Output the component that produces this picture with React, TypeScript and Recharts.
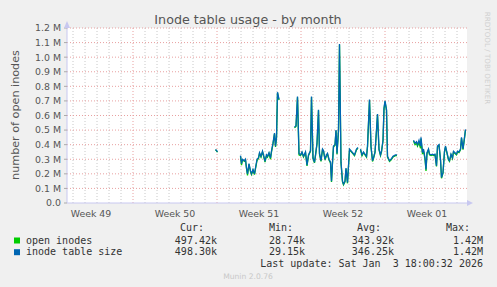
import { LineChart, Line, XAxis, YAxis, CartesianGrid, ReferenceLine } from "recharts";

// hours since the left edge of the graph (2 h per pixel)
const hours = [
  297, 299, 301, 320,
  347, 349, 351, 355, 357, 359, 361, 364, 367, 369, 372, 375, 377, 380, 383, 385,
  388, 391, 393, 396, 399, 401, 404, 407, 409, 412, 415, 417, 419, 421, 424, 440,
  455, 458, 461, 464, 467, 470, 473, 477, 480, 483, 487, 489, 492, 495, 497, 500,
  503, 505, 508, 511, 513, 516, 519, 521, 524, 527, 529, 531, 533, 536, 538, 540,
  543, 545, 548, 551, 553, 556, 558, 561, 565, 570, 575, 579, 582, 585, 587, 590,
  593, 599, 601, 605, 608, 611, 613, 616, 619, 621, 624, 627, 629, 632, 634, 636,
  639, 641, 645, 648, 652, 657, 660, 675,
  693, 696, 699, 701, 704, 707, 708, 711, 713, 716, 718, 720, 723, 725, 728, 731,
  733, 736, 739, 741, 744, 747, 749, 752, 755, 757, 760, 763, 765, 768, 771, 773,
  776, 779, 781, 784, 787, 789, 792, 795, 797,
];

// millions
const tableSize = [
  0.367, 0.36, 0.35, null,
  0.325, 0.27, 0.3, 0.29, 0.3, 0.24, 0.2, 0.27, 0.22, 0.2, 0.23, 0.2, 0.24, 0.3, 0.31, 0.345,
  0.32, 0.355, 0.33, 0.285, 0.33, 0.32, 0.345, 0.31, 0.355, 0.41, 0.48, 0.39, 0.45, 0.76, 0.71, null,
  0.52, 0.53, 0.73, 0.34, 0.33, 0.35, 0.32, 0.35, 0.26, 0.33, 0.36, 0.73, 0.31, 0.28, 0.33, 0.41,
  0.64, 0.34, 0.29, 0.37, 0.36, 0.3, 0.33, 0.34, 0.3, 0.28, 0.15, 0.28, 0.39, 0.4, 0.5, 0.34,
  0.5, 1.09, 0.28, 0.15, 0.13, 0.15, 0.24, 0.14, 0.37, 0.35, 0.33, 0.37, 0.38, null, 0.37, 0.33,
  0.35, 0.32, 0.39, 0.71, 0.39, 0.29, 0.31, 0.35, 0.5, 0.61, 0.37, 0.33, 0.355, 0.43, 0.65, 0.7,
  0.64, 0.32, 0.29, 0.3, 0.32, 0.33, 0.33, null,
  0.43, 0.41, 0.42, 0.4, 0.43, 0.39, 0.45, 0.345, 0.37, 0.31, 0.23, 0.345, 0.37, 0.335, 0.33, 0.335,
  0.33, 0.335, 0.255, 0.39, 0.4, 0.3, 0.175, 0.21, 0.355, 0.39, 0.345, 0.3, 0.29, 0.335, 0.31, 0.355,
  0.345, 0.335, 0.355, 0.35, 0.37, 0.45, 0.37, 0.45, 0.505,
];

const openInodes = [
  0.365, 0.358, 0.348, null,
  0.32, 0.26, 0.295, 0.285, 0.295, 0.235, 0.19, 0.265, 0.215, 0.195, 0.225, 0.195, 0.235, 0.29, 0.305, 0.34,
  0.315, 0.35, 0.325, 0.28, 0.325, 0.315, 0.34, 0.3, 0.35, 0.405, 0.475, 0.385, 0.445, 0.755, 0.705, null,
  0.515, 0.525, 0.725, 0.33, 0.325, 0.345, 0.315, 0.345, 0.255, 0.325, 0.355, 0.725, 0.305, 0.275, 0.325, 0.405,
  0.635, 0.335, 0.285, 0.365, 0.355, 0.295, 0.325, 0.335, 0.295, 0.275, 0.145, 0.275, 0.385, 0.395, 0.495, 0.335,
  0.495, 1.085, 0.275, 0.145, 0.125, 0.145, 0.235, 0.135, 0.365, 0.345, 0.325, 0.365, 0.375, null, 0.365, 0.325,
  0.345, 0.315, 0.385, 0.705, 0.385, 0.285, 0.305, 0.345, 0.495, 0.605, 0.365, 0.325, 0.35, 0.425, 0.645, 0.695,
  0.635, 0.315, 0.285, 0.295, 0.315, 0.325, 0.325, null,
  0.425, 0.4, 0.41, 0.39, 0.415, 0.375, 0.44, 0.335, 0.36, 0.3, 0.22, 0.34, 0.365, 0.33, 0.325, 0.33,
  0.325, 0.33, 0.25, 0.385, 0.395, 0.295, 0.17, 0.205, 0.35, 0.385, 0.34, 0.295, 0.285, 0.33, 0.305, 0.35,
  0.34, 0.33, 0.35, 0.345, 0.365, 0.445, 0.365, 0.445, 0.5,
];

const weekTicks = [48, 216, 384, 552, 720];
const weekLabels = ["Week 49", "Week 50", "Week 51", "Week 52", "Week 01"];
const weekStarts = [132, 300, 468, 636];
const dayLines = Array.from({ length: 33 }, (_, i) => 12 + i * 24).filter((h) => !weekStarts.includes(h));
const yTicks = [0, 0.1, 0.2, 0.3, 0.4, 0.5, 0.6, 0.7, 0.8, 0.9, 1.0, 1.1, 1.2];

const legendRows = [
  { name: "open inodes", color: "#00CC00", cur: "497.42k", min: "28.74k", avg: "343.92k", max: "1.42M" },
  { name: "inode table size", color: "#0066B3", cur: "498.30k", min: "29.15k", avg: "346.25k", max: "1.42M" },
];

const data = hours.map((t, i) => ({ t, open: openInodes[i], size: tableSize[i] }));

const sans = "DejaVu Sans";
const mono = "DejaVu Sans Mono";

export default function App() {
  return (
    <div style={{ position: "absolute", left: 0, top: 0, width: 497, height: 287, background: "#f0f0f0" }}>
      <LineChart
        width={497}
        height={287}
        data={data}
        margin={{ top: 28, right: 30, left: 7, bottom: 54 }}
        style={{ position: "absolute", left: 0, top: 0 }}
      >
        <CartesianGrid
          fill="#ffffff"
          stroke="#c8c8c8"
          strokeDasharray="1 2"
          vertical
          horizontal={false}
          verticalValues={dayLines}
        />
        <CartesianGrid
          stroke="#e8a0a0"
          strokeDasharray="1 2"
          vertical={false}
          horizontalValues={yTicks.slice(1)}
        />
        {weekStarts.map((w) => (
          <ReferenceLine key={w} x={w} stroke="#e8a0a0" strokeDasharray="1 2" />
        ))}
        <XAxis
          dataKey="t"
          type="number"
          domain={[0, 800]}
          ticks={weekTicks}
          tickFormatter={(v: number) => weekLabels[weekTicks.indexOf(v)]}
          tickLine={false}
          axisLine={{ stroke: "#c8c8f0" }}
          tick={{ fill: "#555", fontSize: 9.4, fontFamily: sans }}
          tickMargin={1}
          height={30}
          allowDataOverflow
        />
        <YAxis
          type="number"
          domain={[0, 1.2]}
          ticks={yTicks}
          interval={0}
          tickFormatter={(v: number) => (v === 0 ? "0.0" : v.toFixed(1) + " M")}
          tickLine={{ stroke: "#aaa" }}
          tickSize={3}
          tickMargin={3}
          axisLine={{ stroke: "#c8c8f0" }}
          tick={{ fill: "#555", fontSize: 9.4, fontFamily: sans }}
          width={60}
        />
        <Line
          type="linear"
          dataKey="open"
          stroke="#00CC00"
          strokeWidth={1.3}
          dot={false}
          connectNulls={false}
          isAnimationActive={false}
        />
        <Line
          type="linear"
          dataKey="size"
          stroke="#0066B3"
          strokeWidth={1.3}
          dot={false}
          connectNulls={false}
          isAnimationActive={false}
        />
      </LineChart>
      <svg width={497} height={287} style={{ position: "absolute", left: 0, top: 0, pointerEvents: "none" }}>
        <text x={248} y={24} textAnchor="middle" fontFamily={sans} fontSize={12.7} fill="#555">
          Inode table usage - by month
        </text>
        <text
          transform="translate(19,115) rotate(-90)"
          textAnchor="middle"
          fontFamily={sans}
          fontSize={11.2}
          fill="#555"
        >
          number of open inodes
        </text>
        <text
          transform="translate(485,58) rotate(90)"
          textAnchor="middle"
          fontFamily={sans}
          fontSize={7.2}
          fill="#d0d0d0"
        >
          RRDTOOL / TOBI OETIKER
        </text>
        <polygon points="64,28 70,28 67,21" fill="#c8c8f0" />
        <polygon points="467,200 467,206 473,203" fill="#c8c8f0" />
        <g fontFamily={mono} fontSize={10} fill="#333" style={{ whiteSpace: "pre" }}>
          <text x={204} y={231} textAnchor="end">Cur:</text>
          <text x={293} y={231} textAnchor="end">Min:</text>
          <text x={381} y={231} textAnchor="end">Avg:</text>
          <text x={470} y={231} textAnchor="end">Max:</text>
          {legendRows.map((r, i) => {
            const y = 243.5 + i * 11.7;
            return (
              <g key={r.name}>
                <rect x={14} y={y - 6} width={6} height={6} fill={r.color} />
                <text x={26} y={y}>{r.name}</text>
                <text x={217} y={y} textAnchor="end">{r.cur}</text>
                <text x={305} y={y} textAnchor="end">{r.min}</text>
                <text x={394} y={y} textAnchor="end">{r.avg}</text>
                <text x={483} y={y} textAnchor="end">{r.max}</text>
              </g>
            );
          })}
          <text x={483} y={267} textAnchor="end" xmlSpace="preserve">
            {"Last update: Sat Jan  3 18:00:32 2026"}
          </text>
        </g>
        <text x={248} y={279} textAnchor="middle" fontFamily={sans} fontSize={7.6} fill="#c8c8c8">
          Munin 2.0.76
        </text>
      </svg>
    </div>
  );
}
